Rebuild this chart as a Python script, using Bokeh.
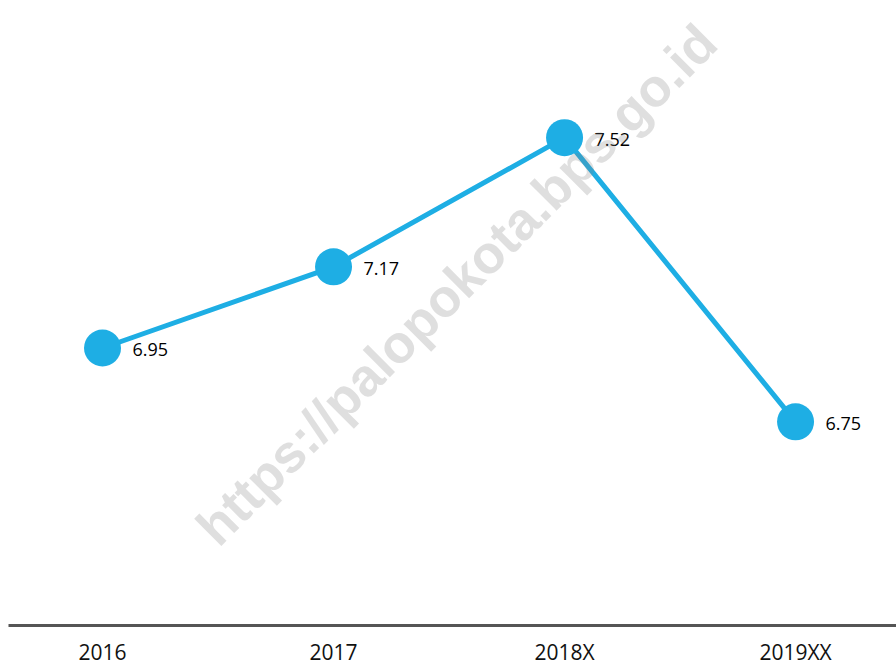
from bokeh.plotting import figure
from bokeh.models import ColumnDataSource, LabelSet, Label, FixedTicker, Range1d
from bokeh.core.properties import value
from bokeh.embed import file_html
from bokeh.resources import INLINE

years = ["2016", "2017", "2018X", "2019XX"]
values = [6.95, 7.17, 7.52, 6.75]

xs = list(range(len(years)))
src = ColumnDataSource(dict(x=xs, y=values, lbl=[f"{v:.2f}" for v in values]))

BLUE = "#1eaee4"

p = figure(frame_width=888, frame_height=617, output_backend="svg", toolbar_location=None,
           x_range=Range1d(-0.407, 3.437), y_range=Range1d(6.198, 7.870),
           min_border=0, min_border_left=8, min_border_top=8,
           background_fill_color="white", border_fill_color="white")
p.outline_line_color = None
p.grid.visible = False
p.yaxis.visible = False

p.line("x", "y", source=src, line_color=BLUE, line_width=5)
p.scatter("x", "y", source=src, size=37, fill_color=BLUE, line_color=None)

labels = LabelSet(x="x", y="y", text="lbl", source=src, x_offset=30, y_offset=-2,
                  text_baseline="middle", text_align="left",
                  text_font=value("Open Sans"), text_font_size="18px", text_color="#000000")
p.add_layout(labels)

ax = p.xaxis[0]
ax.ticker = FixedTicker(ticks=xs)
ax.major_label_overrides = {i: y for i, y in enumerate(years)}
ax.axis_line_color = "#555555"
ax.axis_line_width = 3
ax.major_tick_line_color = None
ax.minor_tick_line_color = None
ax.major_tick_out = 0
ax.major_tick_in = 0
ax.major_label_standoff = 12
ax.major_label_text_font = "Open Sans"
ax.major_label_text_font_size = "21px"
ax.major_label_text_color = "#111111"

wm = Label(x=448, y=341, x_units="screen", y_units="screen", text="https://palopokota.bps.go.id",
           angle=45, angle_units="deg", text_align="center", text_baseline="middle",
           text_font="Liberation Sans", text_font_style="bold", text_font_size="53px",
           text_color="#808080", text_alpha=0.25)
p.add_layout(wm)

open("out.html", "w").write(file_html(p, INLINE))
